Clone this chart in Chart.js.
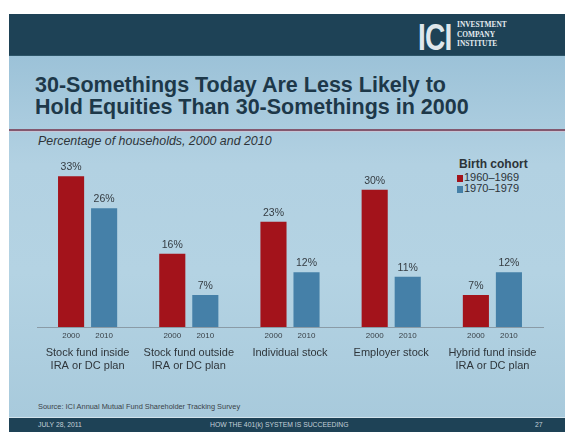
<!DOCTYPE html>
<html>
<head>
<meta charset="utf-8">
<script src="https://cdn.jsdelivr.net/npm/chart.js@4"></script>
<style>
  body { margin: 0; width: 565px; height: 432px; background: #fff; position: relative; overflow: hidden;
         font-family: "Liberation Sans", Arial, sans-serif; }
  .abs { position: absolute; }
  #header { left: 9px; top: 14px; width: 556px; height: 41px; background: #1e4256; border-bottom: 1px solid #2d5568; }
  #bg { left: 9px; top: 56px; width: 556px; height: 361px;
        background: linear-gradient(180deg, #9cc2d8 0%, #b2d1e2 30%, #b4d3e3 60%, #a8cadc 100%); }
  #footer { left: 9px; top: 417px; width: 556px; height: 15px; background: #1e4256; border-top: 1px solid #d2e3ec; }
  #rule { left: 9px; top: 129px; width: 556px; height: 2px; background: #83586f; border-bottom: 1px solid #c8c6d6; }
  #title { left: 35px; top: 74px; font-weight: bold; font-size: 21.5px; line-height: 22px; color: #1d3849; white-space: nowrap; }
  #subtitle { left: 38px; top: 134px; font-style: italic; font-size: 12.4px; color: #2e3438; white-space: nowrap; }
  #logo { left: 418px; top: 17px; font-weight: bold; font-size: 36px; color: #dfe7ec; transform: scaleX(0.78); transform-origin: left top; letter-spacing: -1px; }
  #logotext { left: 457px; top: 20px; font-family: "Liberation Serif", "DejaVu Serif", serif; font-weight: bold; font-size: 7.4px; line-height: 9.5px; color: #e6edf1; }
  #legend { left: 457px; top: 156px; color: #2c3338; }
  #legend .head { font-weight: bold; font-size: 12px; margin-left: 2px; line-height: 16px; }
  #legend .item { font-size: 11px; line-height: 11px; white-space: nowrap; }
  #legend .sw { display: inline-block; width: 6px; height: 7px; margin-right: 1px; vertical-align: -1px; }
  #source { left: 38px; top: 402px; font-size: 7.4px; color: #3a4248; white-space: nowrap; }
  .foot { top: 421px; font-size: 6.8px; color: #c3d0d8; white-space: nowrap; }
  #wrap { left: 0; top: 0; width: 565px; height: 432px; }
</style>
</head>
<body>
<div id="header" class="abs"></div>
<div id="bg" class="abs"></div>
<div id="footer" class="abs"></div>
<div id="rule" class="abs"></div>
<div id="logo" class="abs">ICI</div>
<div id="logotext" class="abs">INVESTMENT<br>COMPANY<br>INSTITUTE</div>
<div id="title" class="abs">30-Somethings Today Are Less Likely to<br>Hold Equities Than 30-Somethings in 2000</div>
<div id="subtitle" class="abs">Percentage of households, 2000 and 2010</div>
<div id="legend" class="abs"></div>
<div id="source" class="abs">Source: ICI Annual Mutual Fund Shareholder Tracking Survey</div>
<div class="abs foot" style="left:38px">JULY 28, 2011</div>
<div class="abs foot" style="left:210px">HOW THE 401(k) SYSTEM IS SUCCEEDING</div>
<div class="abs foot" style="left:535px">27</div>
<div id="wrap" class="abs"><canvas id="chart"></canvas></div>

<script>
const categories = [
  ["Stock fund inside", "IRA or DC plan"],
  ["Stock fund outside", "IRA or DC plan"],
  ["Individual stock"],
  ["Employer stock"],
  ["Hybrid fund inside", "IRA or DC plan"],
];
const years = ["2000", "2010"];
const cohorts = ["1960\u20131969", "1970\u20131979"];
const cohort1960s = [33, 16, 23, 30, 7];
const cohort1970s = [26, 7, 12, 11, 12];
const colors = ["#a3131b", "#4580a8"];

// labels over bars + year under each bar
const barLabels = {
  id: "barLabels",
  afterDatasetsDraw(chart) {
    const ctx = chart.ctx;
    const xScale = chart.scales.x;
    ctx.save();
    ctx.textAlign = "center";
    ctx.textBaseline = "middle";
    chart.data.datasets.forEach((ds, i) => {
      chart.getDatasetMeta(i).data.forEach((bar, j) => {
        ctx.fillStyle = "#353c42";
        ctx.font = '10.5px "Liberation Sans", Arial, sans-serif';
        ctx.fillText(ds.data[j] + "%", bar.x, bar.y - 9);
        ctx.fillStyle = "#3a4248";
        ctx.font = '8px "Liberation Sans", Arial, sans-serif';
        ctx.fillText(years[i], bar.x, xScale.top + 9);
      });
    });
    ctx.restore();
  },
};

const chart = new Chart(document.getElementById("chart"), {
  type: "bar",
  data: {
    labels: categories,
    datasets: [
      { label: cohorts[0], data: cohort1960s, backgroundColor: colors[0] },
      { label: cohorts[1], data: cohort1970s, backgroundColor: colors[1] },
    ],
  },
  options: {
    responsive: true,
    maintainAspectRatio: false,
    animation: false,
    categoryPercentage: 0.653,
    barPercentage: 0.79,
    layout: { padding: { left: 37, right: 22, top: 167, bottom: 0 } },
    plugins: { legend: { display: false }, tooltip: { enabled: false } },
    scales: {
      x: {
        grid: { display: false, drawTicks: false },
        border: { display: true, color: "#8a9ba6", width: 1 },
        ticks: {
          color: "#2f363b",
          padding: 19.5,
          maxRotation: 0,
          autoSkip: false,
          font: { family: '"Liberation Sans", Arial, sans-serif', size: 11, lineHeight: "13px" },
        },
        afterFit(scale) { scale.height = 105; },
      },
      y: { display: false, min: 0, max: 35 },
    },
  },
  plugins: [barLabels],
});

// html legend from the datasets
const legend = document.getElementById("legend");
let html = '<div class="head">Birth cohort</div>';
chart.data.datasets.forEach((ds) => {
  html += '<div class="item"><span class="sw" style="background:' + ds.backgroundColor + '"></span>' + ds.label + "</div>";
});
legend.innerHTML = html;
</script>
</body>
</html>
